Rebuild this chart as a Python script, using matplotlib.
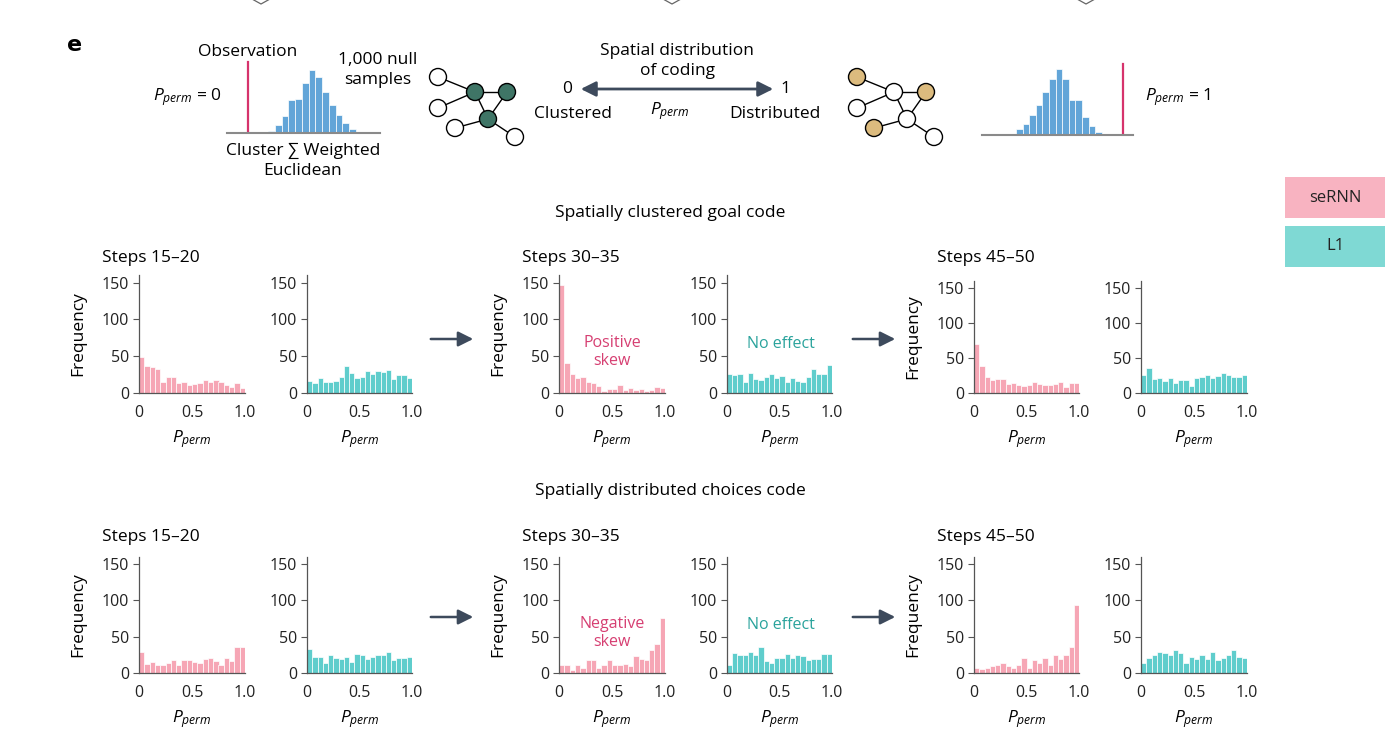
import numpy as np
import matplotlib
matplotlib.use("Agg")
import matplotlib.pyplot as plt
from matplotlib.patches import Circle, Rectangle, FancyArrowPatch

FONT = "Open Sans"
plt.rcParams["font.family"] = [FONT, "DejaVu Sans"]
plt.rcParams["mathtext.fontset"] = "custom"
plt.rcParams["mathtext.rm"] = FONT
plt.rcParams["mathtext.it"] = FONT + ":italic"

PINK, TEAL, BLUE = "#f6a6b5", "#5fcdcc", "#62a5d8"
DARK, SPINE = "#3d4a5c", "#555555"
W, H = 1400, 742
FS = 12.5     # label text
TS = 11.5     # tick text

# ---- data (20 bins of P_perm, 0..1) ----
bins = np.linspace(0, 1, 21)
goal_sernn_15 = [49, 36, 35, 33, 15, 21, 22, 13, 14, 10, 12, 13, 17, 14, 18, 14, 10, 8, 13, 6]
goal_l1_15    = [16, 13, 20, 15, 15, 16, 22, 36, 27, 20, 21, 30, 25, 30, 28, 31, 19, 24, 24, 20]
goal_sernn_30 = [147, 41, 26, 20, 21, 14, 13, 9, 3, 5, 5, 10, 4, 6, 4, 5, 3, 4, 8, 6]
goal_l1_30    = [26, 24, 25, 15, 27, 19, 18, 22, 26, 20, 23, 15, 20, 16, 15, 21, 32, 26, 25, 38]
goal_sernn_45 = [70, 38, 22, 18, 19, 20, 12, 14, 11, 10, 11, 15, 13, 11, 11, 13, 16, 8, 14, 14]
goal_l1_45    = [26, 36, 19, 21, 17, 21, 14, 18, 18, 9, 21, 23, 26, 21, 24, 28, 25, 22, 23, 26]
choice_sernn_15 = [29, 12, 15, 11, 11, 13, 18, 10, 17, 17, 15, 13, 19, 20, 16, 10, 21, 16, 36, 36]
choice_l1_15    = [33, 22, 22, 13, 24, 20, 19, 22, 15, 26, 24, 19, 22, 25, 25, 28, 18, 20, 21, 22]
choice_sernn_30 = [10, 10, 4, 11, 6, 17, 17, 6, 11, 18, 11, 11, 12, 9, 23, 19, 17, 32, 40, 76]
choice_l1_30    = [11, 27, 24, 24, 29, 25, 35, 16, 13, 21, 20, 26, 21, 24, 23, 18, 19, 19, 26, 26]
choice_sernn_45 = [7, 5, 7, 9, 10, 14, 9, 6, 11, 20, 7, 18, 13, 20, 11, 24, 19, 24, 35, 94]
choice_l1_45    = [14, 21, 24, 28, 27, 24, 32, 27, 14, 22, 19, 24, 19, 28, 17, 20, 25, 31, 22, 21]
step_labels = ["Steps 15\u201320", "Steps 30\u201335", "Steps 45\u201350"]
row_titles = ["Spatially clustered goal code", "Spatially distributed choices code"]

# schematic null distributions
null_left  = [5, 25, 52, 100, 102, 152, 190, 170, 125, 85, 55, 30, 13]
null_right = [18, 33, 60, 90, 130, 170, 198, 168, 106, 106, 54, 28, 10]
obs_left, obs_right = -3.0, 16.2

def px_axes(fig, x0, x1, y0, y1):
    a = fig.add_axes([x0 / W, 1 - y1 / H, (x1 - x0) / W, (y1 - y0) / H])
    a.patch.set_alpha(0)
    return a

fig = plt.figure(figsize=(14, 7.42), dpi=100)
ov = fig.add_axes([0, 0, 1, 1])
ov.set_xlim(0, W); ov.set_ylim(H, 0); ov.axis("off")

# bits of the panel above, cut off at the top edge
for xc in [261, 672, 1086]:
    ov.plot([xc - 9, xc, xc + 9], [-1, 4, -1], color="#666666", lw=0.9)

# ---- top schematic ----
ov.text(67, 45, "e", fontsize=16, fontweight="heavy", va="center", family="DejaVu Sans")
for (x0, x1, yb, null, obs, bx0, bw) in [
        (227, 380, 133, null_left, obs_left, 268, 6.77),
        (982, 1133, 135, null_right, obs_right, 1016, 6.6)]:
    a = px_axes(fig, x0, x1, yb - 73, yb)
    a.bar(np.arange(len(null)), null, width=1, align="edge", color=BLUE,
          edgecolor="white", lw=0.5)
    a.axvline(obs, 0, 214 / 220, color="#d6336c", lw=1.6)
    a.set_xlim(-(bx0 - x0) / bw, (x1 - bx0) / bw); a.set_ylim(0, 220)
    for s in ["top", "left", "right"]:
        a.spines[s].set_visible(False)
    a.spines["bottom"].set_color("#8a8a8a"); a.spines["bottom"].set_linewidth(1.5)
    a.set_xticks([]); a.set_yticks([])

LS = 1.3
ov.text(248, 52, "Observation", ha="center", va="center", fontsize=FS)
ov.text(378, 70, "1,000 null\nsamples", ha="center", va="center", fontsize=FS, linespacing=LS)
ov.text(222, 97, r"$P_{perm}$ = 0", ha="right", va="center", fontsize=FS)
ov.text(303, 161, "Cluster \u2211 Weighted\nEuclidean", ha="center", va="center",
        fontsize=FS, linespacing=LS)
ov.text(677, 61, "Spatial distribution\nof coding", ha="center", va="center",
        fontsize=FS, linespacing=LS)
ov.add_patch(FancyArrowPatch((578, 89), (776, 89), arrowstyle="<|-|>,head_length=6,head_width=3",
                             color=DARK, lw=2, mutation_scale=1.5))
ov.text(567, 89, "0", ha="center", va="center", fontsize=FS)
ov.text(785, 89, "1", ha="center", va="center", fontsize=FS)
ov.text(573, 114, "Clustered", ha="center", va="center", fontsize=FS)
ov.text(775, 114, "Distributed", ha="center", va="center", fontsize=FS)
ov.text(670, 111, r"$P_{perm}$", ha="center", va="center", fontsize=FS)
ov.text(1145, 97, r"$P_{perm}$ = 1", ha="left", va="center", fontsize=FS)

nodes = [(438, 77), (475, 92), (507, 92), (438, 108), (488, 119), (455, 128), (515, 137)]
edges = [(0, 1), (1, 2), (3, 1), (1, 4), (2, 4), (4, 5), (4, 6)]
for dx, hot, col in [(0, {1, 2, 4}, "#3f7566"), (419, {0, 2, 5}, "#dcbb7e")]:
    for i, j in edges:
        ov.plot([nodes[i][0] + dx, nodes[j][0] + dx], [nodes[i][1], nodes[j][1]],
                color="black", lw=1, zorder=2)
    for k, (x, y) in enumerate(nodes):
        ov.add_patch(Circle((x + dx, y), 8.5, facecolor=col if k in hot else "white",
                            edgecolor="black", lw=1, zorder=3))

# legend boxes
for y0, lab, col in [(177, "seRNN", "#f8b3c1"), (226, "L1", "#7fd9d4")]:
    ov.add_patch(Rectangle((1285, y0), 100, 41, facecolor=col, edgecolor="none"))
    ov.text(1335, y0 + 20.5, lab, ha="center", va="center", fontsize=FS - 0.5, color="#222222")

# ---- histogram rows ----
rows = [
    ([goal_sernn_15, goal_l1_15, goal_sernn_30, goal_l1_30, goal_sernn_45, goal_l1_45],
     392.7, [275.4, 275.4, 275.4, 275.4, 281.3, 281.3], 213, 258, 339),
    ([choice_sernn_15, choice_l1_15, choice_sernn_30, choice_l1_30, choice_sernn_45, choice_l1_45],
     672.7, [557.0] * 6, 491, 537, 617),
]
xspans = [(139, 245), (307, 412), (559, 665), (727, 832), (974, 1079), (1141, 1247)]

for r, (series, ybase, ytops, ytitle, ysteps, yarrow) in enumerate(rows):
    ov.text(670, ytitle, row_titles[r], ha="center", va="center", fontsize=FS)
    for k, vals in enumerate(series):
        x0, x1 = xspans[k]
        a = px_axes(fig, x0, x1, ytops[k], ybase)
        a.bar(bins[:-1], vals, width=0.05, align="edge",
              color=PINK if k % 2 == 0 else TEAL, edgecolor="white", lw=0.5)
        a.set_xlim(0, 1); a.set_ylim(0, 160)
        a.set_xticks([0, 0.5, 1]); a.set_xticklabels(["0", "0.5", "1.0"])
        a.set_yticks([0, 50, 100, 150])
        a.tick_params(axis="x", length=0, pad=9, labelsize=TS, colors="#222222")
        a.tick_params(axis="y", length=4, width=0.8, pad=3, labelsize=TS,
                      color=SPINE, labelcolor="#222222")
        for s in ["top", "right"]:
            a.spines[s].set_visible(False)
        for s in ["left", "bottom"]:
            a.spines[s].set_color(SPINE); a.spines[s].set_linewidth(0.9)
        a.set_xlabel(r"$P_{perm}$", fontsize=FS, labelpad=5)
        if k % 2 == 0:
            a.set_ylabel("Frequency", fontsize=FS)
            a.yaxis.set_label_coords(-53 / (x1 - x0), 0.5)
            ov.text(x0 - 37, ysteps, step_labels[k // 2], ha="left", va="center", fontsize=FS)
        if k == 2:
            a.text(0.5, 55, "Positive\nskew" if r == 0 else "Negative\nskew", ha="center",
                   va="center", fontsize=TS, color="#d63f72", linespacing=1.15)
        if k == 3:
            a.text(0.51, 66, "No effect", ha="center", va="center", fontsize=TS, color="#2aa39c")
    for xa, xb in [(428, 476), (850, 898)]:
        ov.add_patch(FancyArrowPatch((xa, yarrow), (xb, yarrow),
                                     arrowstyle="-|>,head_length=6,head_width=3",
                                     color=DARK, lw=1.8, mutation_scale=1.5))

fig.savefig("out.png", dpi=100)
